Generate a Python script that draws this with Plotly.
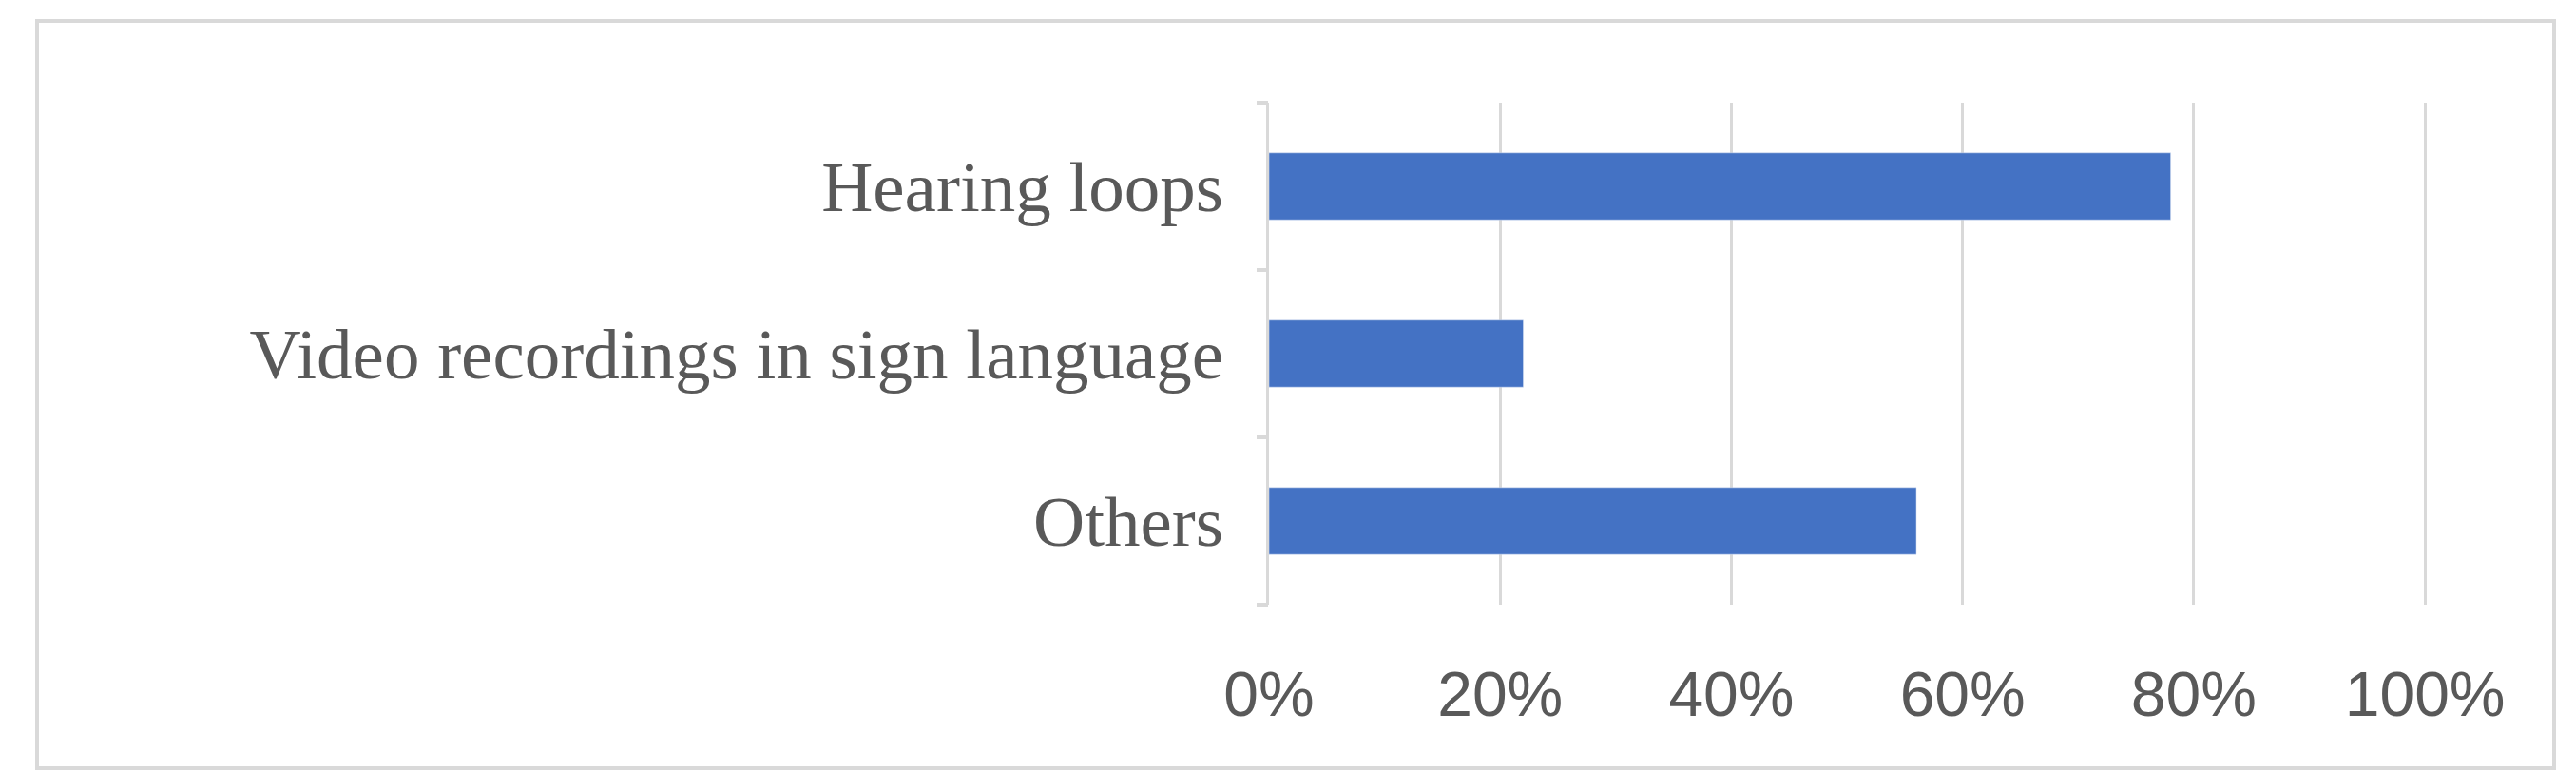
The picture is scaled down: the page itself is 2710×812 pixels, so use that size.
import plotly.graph_objects as go

categories = ["Hearing loops", "Video recordings in sign language", "Others"]
shares = [78, 22, 56]
x_ticks = [0, 20, 40, 60, 80, 100]
x_tick_labels = ["0%", "20%", "40%", "60%", "80%", "100%"]

W, H = 2710, 812
n = len(categories)

fig = go.Figure()
fig.add_trace(go.Bar(
    y=categories, x=shares, orientation="h", width=0.4,
    marker_color="#4472C4", showlegend=False,
))
# invisible trace on a numeric axis to get the category-boundary tick marks
fig.add_trace(go.Scatter(x=[None], y=[None], yaxis="y2", showlegend=False))

fig.update_layout(
    width=W, height=H,
    paper_bgcolor="white", plot_bgcolor="white",
    margin=dict(l=1327, r=W - 2548, t=100, b=H - 628),
    bargap=0.6,
    xaxis=dict(
        range=[0, 100.4], tickvals=x_ticks, ticktext=x_tick_labels,
        showgrid=True, gridcolor="#d9d9d9", gridwidth=3, zeroline=False,
        tickfont=dict(family="Liberation Sans", size=66, color="#595959"),
        ticklabelstandoff=50,
    ),
    yaxis=dict(
        autorange="reversed", showline=True, linecolor="#d9d9d9", linewidth=3,
        tickfont=dict(family="Liberation Serif", size=75, color="#595959"),
        ticks="", ticklabelstandoff=30,
    ),
    yaxis2=dict(
        overlaying="y", range=[-0.5, n - 0.5], tickvals=[i - 0.5 for i in range(n + 1)],
        showticklabels=False, ticks="outside", ticklen=12, tickwidth=4,
        tickcolor="#d9d9d9", showgrid=False, zeroline=False, side="left",
    ),
    shapes=[dict(
        type="rect", xref="paper", yref="paper",
        x0=-(1327 - 31) / (2548 - 1327), x1=1 + (2679 - 2548) / (2548 - 1327),
        y0=-(800 - 628) / (628 - 100), y1=1 + (100 - 14) / (628 - 100),
        line=dict(color="#d9d9d9", width=4),
    )],
)

fig.write_html("out.html")
